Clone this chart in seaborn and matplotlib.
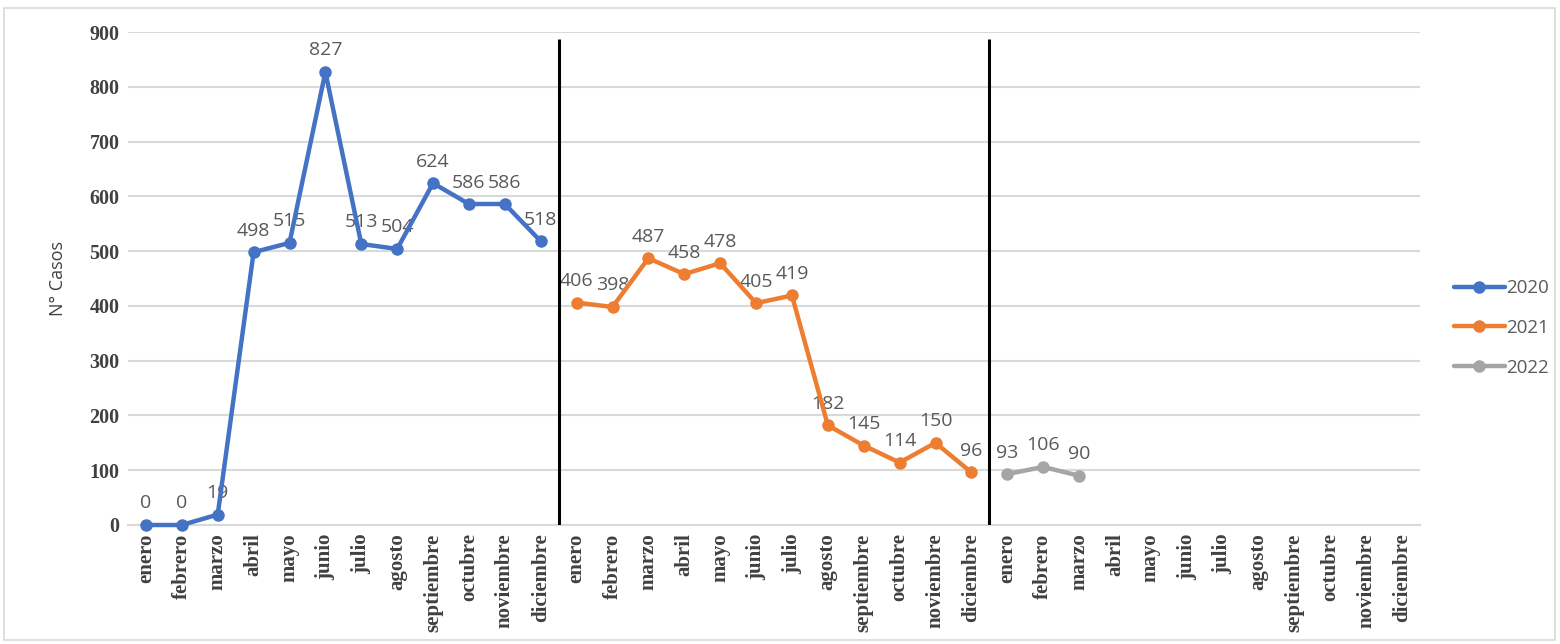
import matplotlib
matplotlib.use("Agg")
import matplotlib.pyplot as plt
import seaborn as sns
import pandas as pd
from matplotlib.patches import Rectangle

months = ["enero", "febrero", "marzo", "abril", "mayo", "junio", "julio",
          "agosto", "septiembre", "octubre", "noviembre", "diciembre"]
years = ["2020", "2021", "2022"]
values_2020 = [0, 0, 19, 498, 515, 827, 513, 504, 624, 586, 586, 518]
values_2021 = [406, 398, 487, 458, 478, 405, 419, 182, 145, 114, 150, 96]
values_2022 = [93, 106, 90]
colors = ["#4472C4", "#ED7D31", "#A5A5A5"]
y_ticks = [0, 100, 200, 300, 400, 500, 600, 700, 800, 900]
separator_top = 888

tick_labels = months * 3

rows = []
for yi, (yr, vals) in enumerate(zip(years, [values_2020, values_2021, values_2022])):
    for mi, v in enumerate(vals):
        rows.append({"pos": yi * 12 + mi, "casos": v, "year": yr})
df = pd.DataFrame(rows)

sns.set_style("white")
fig = plt.figure(figsize=(15.6, 6.44), dpi=100)
ax = fig.add_axes([128 / 1560, 1 - 525 / 644, (1420 - 128) / 1560, (525 - 32) / 644])

sns.lineplot(data=df, x="pos", y="casos", hue="year", palette=colors,
             marker="o", markersize=9, markeredgewidth=0, linewidth=3.2,
             ax=ax, legend=True)
for ln in ax.lines:
    ln.set_clip_on(False)
    ln.set_zorder(4)

for _, r in df.iterrows():
    ax.annotate(str(r["casos"]), (r["pos"], r["casos"]), xytext=(0, 9),
                textcoords="offset points", ha="center", va="bottom",
                fontsize=14, color="#595959", family="Open Sans")

# separators between years
ax.vlines([11.5, 23.5], 0, separator_top, colors="black", linewidth=2.2, zorder=5)

ax.set_xlim(-0.5, 35.5)
ax.set_ylim(0, 900)
ax.set_yticks(y_ticks)
ax.set_xticks(range(36))
ax.set_xticklabels(tick_labels, rotation=90, fontsize=15, fontweight="bold",
                   family="Liberation Serif", color="#404040")
ax.set_yticklabels([str(t) for t in y_ticks], fontsize=14.5, fontweight="bold",
                   family="Liberation Serif", color="#404040")
ax.tick_params(axis="both", length=0, pad=6)
ax.yaxis.grid(True, color="#D9D9D9", linewidth=1.5)
ax.set_axisbelow(True)
for s in ["top", "right", "left"]:
    ax.spines[s].set_visible(False)
ax.spines["bottom"].set_color("#D9D9D9")
ax.spines["bottom"].set_linewidth(1.5)
ax.set_xlabel("")
ax.set_ylabel("N° Casos", fontsize=13, family="Open Sans", color="#404040", labelpad=16)

handles, labels = ax.get_legend_handles_labels()
ax.get_legend().remove()
leg = fig.legend(handles, labels, loc="center left",
                 bbox_to_anchor=(1454 / 1560, 1 - 328 / 644), frameon=False,
                 prop={"family": "Open Sans", "size": 13.5}, handlelength=2.7,
                 handletextpad=0.1, labelspacing=1.15, borderpad=0,
                 borderaxespad=0, labelcolor="#595959")

fig.add_artist(Rectangle((4 / 1560, 4 / 644), 1 - 9 / 1560, 1 - 12 / 644,
                         transform=fig.transFigure, fill=False,
                         edgecolor="#D9D9D9", linewidth=1.2))

fig.savefig("out.png", dpi=100)
